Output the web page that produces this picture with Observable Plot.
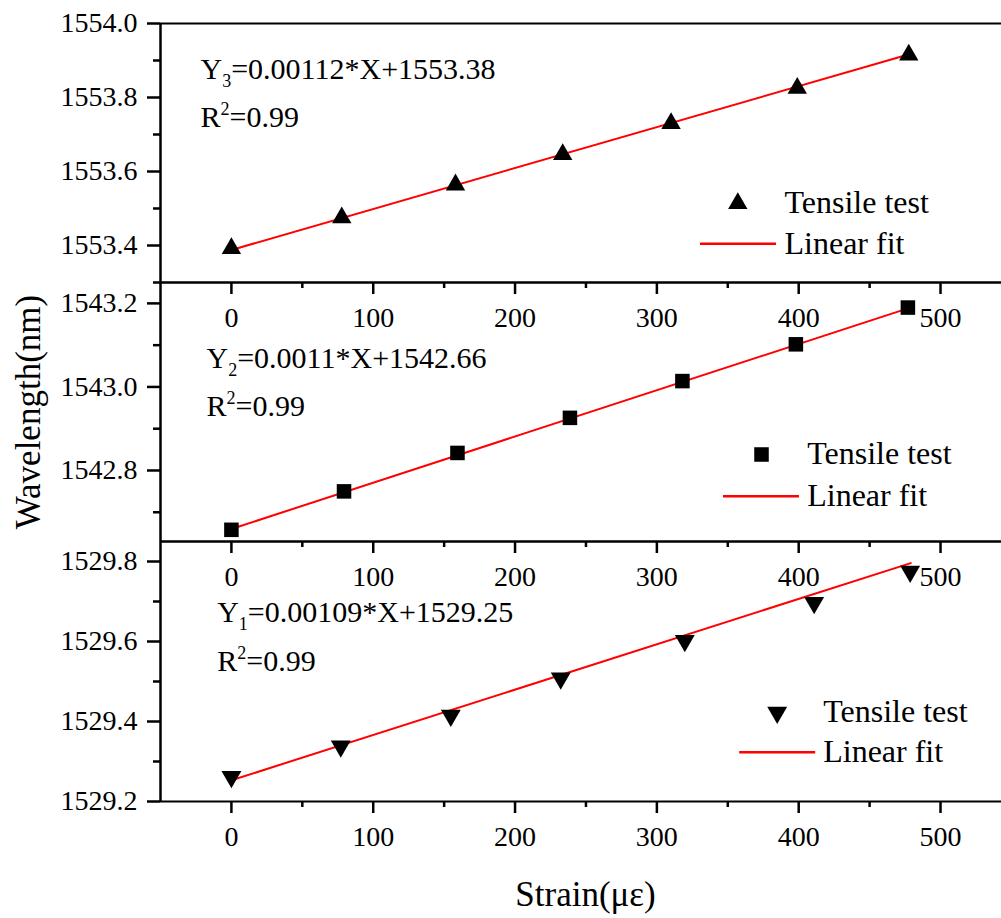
<!DOCTYPE html>
<html>
<head>
<meta charset="utf-8">
<script src="https://cdn.jsdelivr.net/npm/d3@7"></script>
<script src="https://cdn.jsdelivr.net/npm/@observablehq/plot@0.6"></script>
<style>
  body { margin: 0; background: #fff; }
  #chart { position: relative; width: 1001px; height: 918px; overflow: hidden; background: #fff;
           font-family: "Liberation Serif", "Times New Roman", serif; }
  #chart svg { position: absolute; left: 0; }
  #chart svg, #chart svg text, #chart svg tspan { font-family: "Liberation Serif", "Times New Roman", serif !important; }
</style>
</head>
<body>
<div id="chart"></div>
<script>
// ---------- shared x axis ----------
const xDomain = [-50, 543];
const xMajor = [0, 100, 200, 300, 400, 500];
const xMinor = [50, 150, 250, 350, 450];

// ---------- series 3 (top panel, triangles) ----------
const strain3 = [0, 77.8, 158, 233.6, 310, 399, 477.6];
const wave3 = [1553.392, 1553.475, 1553.564, 1553.646, 1553.730, 1553.825, 1553.915];
const fitX3 = [0, 478];
const fitY3 = [1553.388, 1553.917];
const yDomain3 = [1553.3, 1554.0];
const yMajor3 = [1553.4, 1553.6, 1553.8, 1554.0];
const yMinor3 = [1553.3, 1553.5, 1553.7, 1553.9];
const eq3 = "Y_3=0.00112*X+1553.38";

// ---------- series 2 (middle panel, squares) ----------
const strain2 = [0, 79.4, 159.4, 238.7, 318, 398, 477];
const wave2 = [1542.658, 1542.750, 1542.842, 1542.926, 1543.014, 1543.102, 1543.190];
const fitX2 = [0, 477];
const fitY2 = [1542.66, 1543.188];
const yDomain2 = [1542.63, 1543.25];
const yMajor2 = [1542.8, 1543.0, 1543.2];
const yMinor2 = [1542.7, 1542.9, 1543.1];
const eq2 = "Y_2=0.0011*X+1542.66";

// ---------- series 1 (bottom panel, inverted triangles) ----------
const strain1 = [0, 77.1, 154.7, 232.2, 319.7, 410.9, 478.6];
const wave1 = [1529.262, 1529.338, 1529.415, 1529.508, 1529.602, 1529.697, 1529.775];
const fitX1 = [0, 479];
const fitY1 = [1529.253, 1529.796];
const yDomain1 = [1529.2, 1529.85];
const yMajor1 = [1529.2, 1529.4, 1529.6, 1529.8];
const yMinor1 = [1529.3, 1529.5, 1529.7];
const eq1 = "Y_1=0.00109*X+1529.25";

const r2Text = "R^2=0.99";
const legendPoint = "Tensile test";
const legendLine = "Linear fit";
const xTitle = "Strain(με)";
const yTitle = "Wavelength(nm)";

// ---------- symbols ----------
const sqrt3 = Math.sqrt(3);
const triangleDown = {
  draw(ctx, size) {
    const y = -Math.sqrt(size / (sqrt3 * 3));
    ctx.moveTo(0, -y * 2);
    ctx.lineTo(-sqrt3 * y, y);
    ctx.lineTo(sqrt3 * y, y);
    ctx.closePath();
  }
};
const hline = {
  draw(ctx) { ctx.moveTo(-38, 0); ctx.lineTo(38, 0); }
};

const fontFamily = '"Liberation Serif", "Times New Roman", serif';

function panel(cfg) {
  const pts = cfg.strain.map((x, i) => ({x, y: cfg.wave[i]}));
  const fit = cfg.fitX.map((x, i) => ({x, y: cfg.fitY[i]}));
  const L = cfg.layout;
  const marks = [
    Plot.ruleY(cfg.yDomain, {stroke: "#000", strokeWidth: 2}),
    Plot.ruleX([xDomain[0]], {stroke: "#000", strokeWidth: 2.5}),
    Plot.axisX({ticks: xMajor, tickSize: 12, tickPadding: 13, tickFormat: d3.format("d"),
                fontSize: 28, fontFamily, strokeWidth: 2.5, label: null}),
    Plot.axisX({ticks: xMinor, tickSize: 6, tickFormat: () => "", strokeWidth: 2.5, label: null}),
    Plot.axisY({ticks: cfg.yMajor, tickSize: 13, tickPadding: 10, tickFormat: d3.format(".1f"),
                fontSize: 28, fontFamily, strokeWidth: 2.5, label: null}),
    Plot.axisY({ticks: cfg.yMinor, tickSize: 7, tickFormat: () => "", strokeWidth: 2.5, label: null}),
    Plot.line(fit, {x: "x", y: "y", stroke: "#ff0000", strokeWidth: 2}),
    Plot.dot(pts, {x: "x", y: "y", symbol: cfg.symbol, r: cfg.r, fill: "#000", stroke: "none"}),
    // equation and R²
    Plot.text([cfg.eq], {frameAnchor: "top-left", dx: L.eqDx, dy: L.eqDy, textAnchor: "start",
                         lineAnchor: "bottom", fontSize: 30, fontFamily}),
    Plot.text([r2Text], {frameAnchor: "top-left", dx: L.eqDx, dy: L.r2Dy, textAnchor: "start",
                         lineAnchor: "bottom", fontSize: 30, fontFamily}),
    // legend
    Plot.dot([0], {frameAnchor: "top-left", dx: L.symDx, dy: L.symDy, symbol: cfg.symbol, r: cfg.r,
                   fill: "#000", stroke: "none"}),
    Plot.text([legendPoint], {frameAnchor: "top-left", dx: L.txtDx, dy: L.txt1Dy, textAnchor: "start",
                              lineAnchor: "bottom", fontSize: 32, fontFamily}),
    Plot.dot([0], {frameAnchor: "top-left", dx: L.lineDx, dy: L.lineDy, symbol: hline, r: 1,
                   fill: "none", stroke: "#ff0000", strokeWidth: 2.5}),
    Plot.text([legendLine], {frameAnchor: "top-left", dx: L.txtDx, dy: L.txt2Dy, textAnchor: "start",
                             lineAnchor: "bottom", fontSize: 32, fontFamily})
  ];
  if (cfg.extra) marks.push(...cfg.extra);
  const svg = Plot.plot({
    width: 1001,
    height: cfg.marginTop + cfg.frameHeight + cfg.marginBottom,
    marginLeft: 160, marginRight: 0, marginTop: cfg.marginTop, marginBottom: cfg.marginBottom,
    x: {domain: xDomain},
    y: {domain: cfg.yDomain},
    style: {fontFamily, fontSize: "28px", background: "transparent", overflow: "visible", color: "#000"},
    marks
  });
  svg.style.top = (cfg.frameTop - cfg.marginTop) + "px";
  rich(svg);
  return svg;
}

// convert "Y_3" / "R^2" markers into sub/superscript tspans
function rich(svg) {
  d3.select(svg).selectAll("text").each(function () {
    if (this.querySelector("tspan")) return;
    const t = this.textContent;
    const m = /^([A-Z])([_^])(\d)(.*)$/.exec(t);
    if (!m) return;
    const sub = m[2] === "_";
    const el = d3.select(this);
    el.text(null);
    el.append("tspan").text(m[1]);
    el.append("tspan").attr("font-size", 18).attr("dy", sub ? 8 : -12).text(m[3]);
    el.append("tspan").attr("dy", sub ? -8 : 12).text(m[4]);
  });
}

const chart = document.getElementById("chart");

chart.appendChild(panel({
  strain: strain3, wave: wave3, fitX: fitX3, fitY: fitY3, yDomain: yDomain3,
  yMajor: yMajor3, yMinor: yMinor3, eq: eq3, symbol: "triangle", r: 7.2,
  frameTop: 23, frameHeight: 259, marginTop: 20, marginBottom: 60,
  layout: {eqDx: 40, eqDy: 55, r2Dy: 103.7, symDx: 577.3, symDy: 180, txtDx: 624, txt1Dy: 189.3,
           lineDx: 577.5, lineDy: 220.3, txt2Dy: 230.3}
}));

chart.appendChild(panel({
  strain: strain2, wave: wave2, fitX: fitX2, fitY: fitY2, yDomain: yDomain2,
  yMajor: yMajor2, yMinor: yMinor2, eq: eq2, symbol: "square", r: 8.2,
  frameTop: 282, frameHeight: 259, marginTop: 20, marginBottom: 60,
  layout: {eqDx: 46, eqDy: 85, r2Dy: 133.7, symDx: 601, symDy: 172, txtDx: 646.7, txt1Dy: 181.3,
           lineDx: 600.5, lineDy: 213.7, txt2Dy: 223},
  extra: [
    Plot.text([yTitle], {frameAnchor: "left", textAnchor: "middle", rotate: -90, dx: -120.7,
                         lineAnchor: "bottom", fontSize: 35, fontFamily})
  ]
}));

chart.appendChild(panel({
  strain: strain1, wave: wave1, fitX: fitX1, fitY: fitY1, yDomain: yDomain1,
  yMajor: yMajor1, yMinor: yMinor1, eq: eq1, symbol: triangleDown, r: 7.4,
  frameTop: 541, frameHeight: 260, marginTop: 20, marginBottom: 112,
  layout: {eqDx: 56.7, eqDy: 80.7, r2Dy: 129, symDx: 616.7, symDy: 171, txtDx: 662.7, txt1Dy: 180.7,
           lineDx: 616.7, lineDy: 210.7, txt2Dy: 220.7},
  extra: [
    Plot.text([xTitle], {frameAnchor: "bottom", textAnchor: "middle", dx: 4.5, dy: 104,
                         lineAnchor: "bottom", fontSize: 35, fontFamily})
  ]
}));
</script>
</body>
</html>
